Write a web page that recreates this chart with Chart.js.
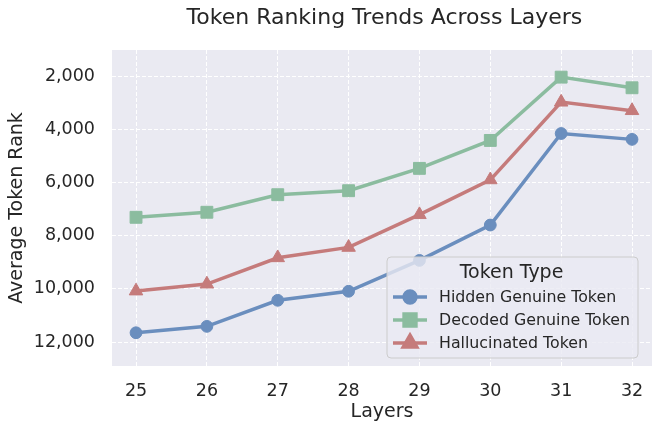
<!DOCTYPE html>
<html>
<head>
<meta charset="utf-8">
<script src="https://cdn.jsdelivr.net/npm/chart.js@4.4.1/dist/chart.umd.min.js"></script>
<style>
  html, body { margin: 0; padding: 0; background: #fff; overflow: hidden; }
  #grafico { display: block; }
</style>
</head>
<body>
<canvas id="grafico" width="652" height="423"></canvas>
<script>
const layers = [25, 26, 27, 28, 29, 30, 31, 32];
const hiddenGenuine = [11650, 11410, 10430, 10090, 8930, 7600, 4160, 4380];
const decodedGenuine = [7310, 7120, 6460, 6310, 5470, 4420, 2040, 2440];
const hallucinated = [10080, 9820, 8830, 8440, 7210, 5900, 2980, 3300];
const yTicks = [2000, 4000, 6000, 8000, 10000, 12000];

const fuente = "'DejaVu Sans', sans-serif";
const texto = '#262626';
const titulo = 'Token Ranking Trends Across Layers';

// el area del grafico llega hasta el borde derecho del lienzo
const bordePlugin = {
    id: 'borde',
    afterLayout(chart) {
        const a = chart.chartArea;
        const xs = chart.scales.x;
        a.right = chart.width;
        a.width = a.right - a.left;
        xs.right = chart.width;
        xs.width = xs.right - xs.left;
        xs.configure();
    }
};

// fondo gris del area del grafico + titulo centrado sobre el area completa
const fondoPlugin = {
    id: 'fondo',
    beforeDraw(chart) {
        const { ctx, chartArea: a } = chart;
        ctx.save();
        ctx.fillStyle = '#eaeaf2';
        ctx.fillRect(a.left, a.top, a.right - a.left, a.bottom - a.top);
        ctx.fillStyle = texto;
        ctx.font = '22px ' + fuente;
        ctx.textAlign = 'center';
        ctx.textBaseline = 'middle';
        // el eje real llega hasta 32.35, fuera del lienzo
        const derecha = chart.scales.x.getPixelForValue(32.35);
        ctx.fillText(titulo, (a.left + derecha) / 2, 18);
        ctx.restore();
    }
};

// leyenda dentro del grafico, abajo a la derecha
const leyendaPlugin = {
    id: 'leyenda',
    afterDatasetsDraw(chart) {
        const ctx = chart.ctx;
        const x0 = 387, y0 = 257, w = 251, h = 101;
        ctx.save();
        ctx.beginPath();
        ctx.roundRect(x0, y0, w, h, 4);
        ctx.fillStyle = 'rgba(234,234,242,0.8)';
        ctx.fill();
        ctx.strokeStyle = '#cccccc';
        ctx.lineWidth = 1;
        ctx.stroke();

        ctx.fillStyle = texto;
        ctx.textAlign = 'center';
        ctx.textBaseline = 'middle';
        ctx.font = '19px ' + fuente;
        ctx.fillText('Token Type', x0 + w / 2 - 1, y0 + 16);

        ctx.font = '15.8px ' + fuente;
        ctx.textAlign = 'left';
        chart.data.datasets.forEach((ds, i) => {
            const y = y0 + 40 + i * 23;
            ctx.strokeStyle = ds.borderColor;
            ctx.lineWidth = 3.5;
            ctx.beginPath();
            ctx.moveTo(x0 + 6, y);
            ctx.lineTo(x0 + 40, y);
            ctx.stroke();
            Chart.helpers.drawPoint(ctx, {
                pointStyle: ds.pointStyle,
                radius: ds.pointRadius,
                borderWidth: 1
            }, x0 + 23, y);
            ctx.fillStyle = ds.borderColor;
            ctx.fill();
            ctx.fillStyle = texto;
            ctx.fillText(ds.label, x0 + 52, y + 1);
        });
        ctx.restore();
    }
};

function serie(label, data, color, estilo, radio) {
    return {
        label: label,
        data: data.map((v, i) => ({ x: layers[i], y: v })),
        borderColor: color,
        backgroundColor: color,
        borderWidth: 3.5,
        pointStyle: estilo,
        pointRadius: radio,
        pointHoverRadius: radio,
        pointBorderWidth: 1,
        tension: 0
    };
}

function sinRelleno(s) {
    s.paddingLeft = 0;
    s.paddingRight = 0;
    s.paddingTop = 0;
    s.paddingBottom = 0;
}

const ctx = document.getElementById('grafico').getContext('2d');
const myChart = new Chart(ctx, {
    type: 'line',
    data: {
        datasets: [
            serie('Hidden Genuine Token', hiddenGenuine, 'rgb(106,142,190)', 'circle', 5.9),
            serie('Decoded Genuine Token', decodedGenuine, 'rgb(139,188,159)', 'rect', 8.4),
            serie('Hallucinated Token', hallucinated, 'rgb(197,123,123)', 'triangle', 7.8)
        ]
    },
    options: {
        responsive: false,
        animation: false,
        layout: { padding: { left: 0, right: 0, top: 50, bottom: 0 } },
        plugins: {
            legend: { display: false },
            tooltip: { enabled: false },
            title: { display: false }
        },
        scales: {
            x: {
                type: 'linear',
                min: 24.661,
                max: 32.282,
                afterBuildTicks: (s) => { s.ticks = layers.map(v => ({ value: v })); },
                afterFit: (s) => { s.height = 57; sinRelleno(s); },
                ticks: {
                    color: texto,
                    font: { family: fuente, size: 17.5 },
                    padding: 0,
                    callback: (v) => String(v)
                },
                grid: {
                    color: '#ffffff',
                    lineWidth: 1,
                    drawTicks: true,
                    tickLength: 15,
                    tickColor: 'rgba(0,0,0,0)'
                },
                border: { display: false, dash: [4, 2] },
                title: {
                    display: true,
                    text: 'Layers',
                    color: texto,
                    font: { family: fuente, size: 19 },
                    padding: { top: 0, bottom: 0 }
                }
            },
            y: {
                type: 'linear',
                reverse: true,
                min: 1020,
                max: 12900,
                afterBuildTicks: (s) => { s.ticks = yTicks.map(v => ({ value: v })); },
                afterFit: (s) => { s.width = 112; sinRelleno(s); },
                ticks: {
                    color: texto,
                    font: { family: fuente, size: 17.5 },
                    padding: 17,
                    callback: (v) => v.toLocaleString('en-US')
                },
                grid: { color: '#ffffff', lineWidth: 1, drawTicks: false },
                border: { display: false, dash: [4, 2] },
                title: {
                    display: true,
                    text: 'Average Token Rank',
                    color: texto,
                    font: { family: fuente, size: 19 },
                    padding: { top: 6, bottom: 0 }
                }
            }
        }
    },
    plugins: [bordePlugin, fondoPlugin, leyendaPlugin]
});
</script>
</body>
</html>
